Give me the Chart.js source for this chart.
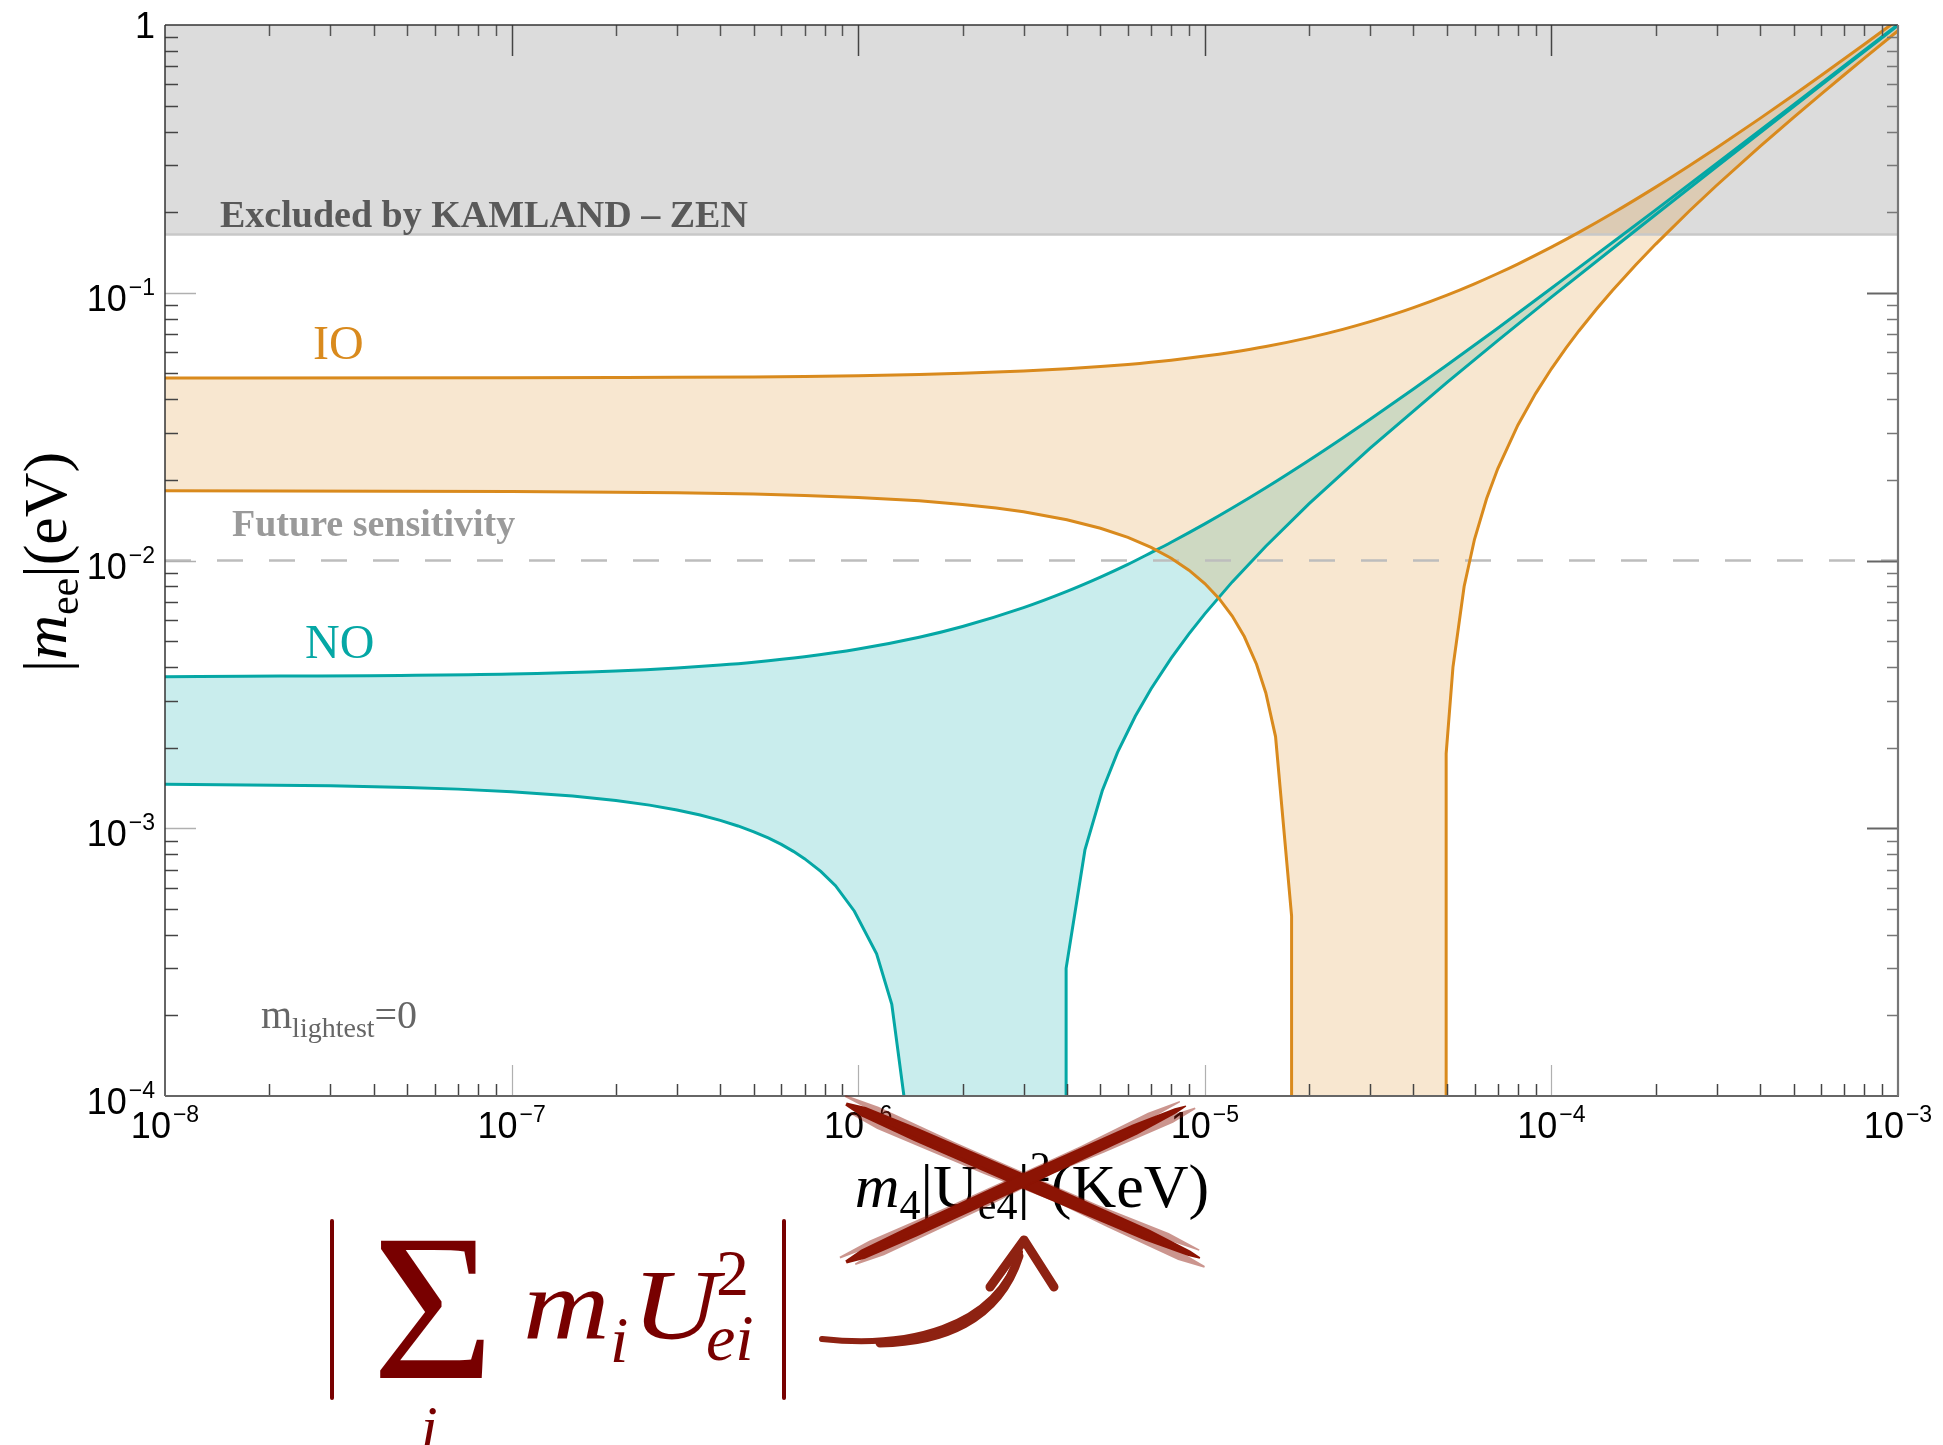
<!DOCTYPE html>
<html>
<head>
<meta charset="utf-8">
<title>|m_ee| versus m4|Ue4|^2</title>
<script src="https://cdn.jsdelivr.net/npm/chart.js@4.4.1/dist/chart.umd.min.js"></script>
<style>
  html, body { margin: 0; padding: 0; background: #fff; }
  #meeChart { display: block; width: 1943px; height: 1445px; }
</style>
</head>
<body>
<canvas id="meeChart" width="1943" height="1445"></canvas>
<script>
// Inverted ordering band: upper edge and the two branches of the lower edge (x in keV, |m_ee| in eV)
const ioUpperX = [1e-8, 1e-7, 2e-7, 3e-7, 5e-7, 7e-7, 1e-6, 1.5e-6, 2e-6, 3e-6, 4e-6, 5e-6, 6e-6, 8e-6, 1e-5, 1.2e-5, 1.5e-5, 2e-5, 2.5e-5, 3e-5, 3.5e-5, 4e-5, 5e-5, 6e-5, 7e-5, 8e-5, 1e-4, 1.2e-4, 1.5e-4, 2e-4, 2.5e-4, 3e-4, 4e-4, 5e-4, 6e-4, 7e-4, 8e-4, 9e-4, 1e-3];
const ioUpperY = [0.0480, 0.0481, 0.0482, 0.0483, 0.0485, 0.0487, 0.049, 0.0495, 0.050, 0.051, 0.052, 0.053, 0.054, 0.056, 0.058, 0.060, 0.063, 0.068, 0.073, 0.078, 0.083, 0.088, 0.098, 0.108, 0.118, 0.128, 0.148, 0.168, 0.198, 0.248, 0.298, 0.348, 0.448, 0.548, 0.648, 0.748, 0.848, 0.948, 1.048];
const ioLowLeftX = [1e-8, 1e-7, 2e-7, 3e-7, 5e-7, 7e-7, 1e-6, 1.5e-6, 2e-6, 2.5e-6, 3e-6, 4e-6, 5e-6, 6e-6, 7e-6, 8e-6, 9e-6, 1e-5, 1.1e-5, 1.2e-5, 1.3e-5, 1.41e-5, 1.5e-5, 1.6e-5, 1.78e-5, 1.78e-5];
const ioLowLeftY = [0.0182, 0.0181, 0.0180, 0.0179, 0.0177, 0.0175, 0.0172, 0.0167, 0.0162, 0.0157, 0.0152, 0.0142, 0.0132, 0.0122, 0.0112, 0.0102, 0.0092, 0.0082, 0.0072, 0.0062, 0.0052, 0.0041, 0.0032, 0.0022, 0.00047, 0.0001];
const ioLowRightX = [4.97e-5, 4.97e-5, 5.2e-5, 5.6e-5, 6e-5, 6.5e-5, 7e-5, 8e-5, 9e-5, 1e-4, 1.1e-4, 1.2e-4, 1.35e-4, 1.5e-4, 1.75e-4, 2e-4, 2.5e-4, 3e-4, 4e-4, 5e-4, 6e-4, 7e-4, 8e-4, 1e-3];
const ioLowRightY = [0.0001, 0.0019, 0.0040, 0.0080, 0.012, 0.017, 0.022, 0.032, 0.042, 0.052, 0.062, 0.072, 0.087, 0.102, 0.127, 0.152, 0.202, 0.252, 0.352, 0.452, 0.552, 0.652, 0.752, 0.952];

// Normal ordering band
const noUpperX = [1e-8, 1e-7, 2e-7, 3e-7, 4e-7, 5e-7, 7e-7, 1e-6, 1.5e-6, 2e-6, 3e-6, 4e-6, 5e-6, 6e-6, 7e-6, 8e-6, 1e-5, 1.2e-5, 1.5e-5, 2e-5, 2.5e-5, 3e-5, 4e-5, 5e-5, 7e-5, 1e-4, 1.5e-4, 2e-4, 3e-4, 5e-4, 7e-4, 1e-3];
const noUpperY = [0.00368, 0.00377, 0.00387, 0.00397, 0.00407, 0.00417, 0.00437, 0.00467, 0.00517, 0.00567, 0.00667, 0.00767, 0.00867, 0.00967, 0.0107, 0.0117, 0.0137, 0.0157, 0.0187, 0.0237, 0.0287, 0.0337, 0.0437, 0.0537, 0.0737, 0.104, 0.154, 0.204, 0.304, 0.504, 0.704, 1.004];
const noLowLeftX = [1e-8, 3e-8, 5e-8, 7e-8, 1e-7, 1.5e-7, 2e-7, 2.5e-7, 3e-7, 3.5e-7, 4e-7, 4.5e-7, 5e-7, 5.5e-7, 6e-7, 6.5e-7, 7e-7, 7.8e-7, 8.6e-7, 9.75e-7, 1.13e-6, 1.25e-6, 1.355e-6];
const noLowLeftY = [0.00146, 0.00144, 0.00142, 0.00140, 0.00137, 0.00132, 0.00127, 0.00122, 0.00117, 0.00112, 0.00107, 0.00102, 0.00097, 0.00092, 0.00087, 0.00082, 0.00077, 0.00069, 0.00061, 0.00049, 0.00034, 0.00022, 0.0001];
const noLowRightX = [3.98e-6, 3.98e-6, 4.51e-6, 5.06e-6, 5.6e-6, 6.3e-6, 7e-6, 8e-6, 9e-6, 1e-5, 1.2e-5, 1.5e-5, 2e-5, 3e-5, 5e-5, 7e-5, 1e-4, 1.5e-4, 2e-4, 3e-4, 5e-4, 7e-4, 1e-3];
const noLowRightY = [0.0001, 0.0003, 0.00083, 0.00138, 0.00192, 0.00262, 0.00332, 0.00432, 0.00532, 0.00632, 0.00832, 0.0113, 0.0163, 0.0263, 0.0463, 0.0663, 0.0963, 0.146, 0.196, 0.296, 0.496, 0.696, 0.996];

// Experimental levels
const kamlandLimit = 0.165;
const futureLimit = 0.01;

// Axis range and tick labels
const xRange = [1e-8, 1e-3];
const yRange = [1e-4, 1];
const xTicks = [1e-8, 1e-7, 1e-6, 1e-5, 1e-4, 1e-3];
const xTickExp = ['\u22128', '\u22127', '\u22126', '\u22125', '\u22124', '\u22123'];
const yTicks = [1e-4, 1e-3, 1e-2, 1e-1, 1];
const yTickBase = ['10', '10', '10', '10', '1'];
const yTickExp = ['\u22124', '\u22123', '\u22122', '\u22121', ''];
const minorSteps = [2, 3, 4, 5, 6, 7, 8, 9];

const ORANGE = '#d98a1d';
const TEAL = '#05a7a5';
const SERIF = '"Liberation Serif", "Times New Roman", serif';
const SANS = '"Liberation Sans", Arial, sans-serif';

const pts = (xs, ys) => xs.map((x, i) => ({ x, y: ys[i] }));

// closed outline of a band: upper edge left->right, then the lower branches back
const bandOutline = (ux, uy, rx, ry, lx, ly) =>
  pts(ux, uy).concat(pts(rx, ry).reverse(), pts(lx, ly).reverse());

const curve = (label, data, color, smooth) => ({
  label, data, borderColor: color, borderWidth: 3, pointRadius: 0,
  fill: false, tension: 0, cubicInterpolationMode: smooth ? 'monotone' : 'default', order: 1
});

const datasets = [
  curve('IO upper', pts(ioUpperX, ioUpperY), ORANGE, true),
  curve('IO lower', pts(ioLowLeftX, ioLowLeftY), ORANGE, false),
  curve('IO lower right', pts(ioLowRightX, ioLowRightY), ORANGE, false),
  curve('NO upper', pts(noUpperX, noUpperY), TEAL, true),
  curve('NO lower', pts(noLowLeftX, noLowLeftY), TEAL, false),
  curve('NO lower right', pts(noLowRightX, noLowRightY), TEAL, false),
  {
    label: 'Future sensitivity',
    data: [{ x: xRange[0], y: futureLimit }, { x: xRange[1], y: futureLimit }],
    borderColor: '#bdbdbd', borderWidth: 2.5, borderDash: [26, 26],
    pointRadius: 0, fill: false, order: 5
  },
  {
    label: 'IO band',
    data: bandOutline(ioUpperX, ioUpperY, ioLowRightX, ioLowRightY, ioLowLeftX, ioLowLeftY),
    borderWidth: 0, pointRadius: 0, fill: 'shape',
    backgroundColor: 'rgba(222, 145, 40, 0.22)', order: 8
  },
  {
    label: 'NO band',
    data: bandOutline(noUpperX, noUpperY, noLowRightX, noLowRightY, noLowLeftX, noLowLeftY),
    borderWidth: 0, pointRadius: 0, fill: 'shape',
    backgroundColor: 'rgba(0, 170, 170, 0.21)', order: 9
  },
  {
    label: 'KamLAND-Zen',
    data: [{ x: xRange[0], y: kamlandLimit }, { x: xRange[1], y: kamlandLimit }],
    borderColor: '#c8c8c8', borderWidth: 2.5, pointRadius: 0,
    fill: 'end', backgroundColor: '#dcdcdc', order: 10
  }
];

function line(ctx, x1, y1, x2, y2, color, w) {
  ctx.strokeStyle = color;
  ctx.lineWidth = w;
  ctx.beginPath();
  ctx.moveTo(x1, y1);
  ctx.lineTo(x2, y2);
  ctx.stroke();
}

// draws a run of [text, font, dy] pieces starting at x, returns the end x
function run(ctx, pieces, x, y, measureOnly) {
  let cx = x;
  pieces.forEach(([s, font, dy]) => {
    ctx.font = font;
    if (!measureOnly) ctx.fillText(s, cx, y + (dy || 0));
    cx += ctx.measureText(s).width;
  });
  return cx;
}

function power(ctx, base, exp, px, baseY, align) {
  const pieces = [[base, '36px ' + SANS, 0]];
  if (exp) pieces.push(['\u2009', '10px ' + SANS, 0], [exp, '23px ' + SANS, -16]);
  const w = run(ctx, pieces, 0, 0, true);
  const left = align === 'center' ? px - w / 2 : px - w;
  run(ctx, pieces, left, baseY);
}

// tapered polygon along p0->p1 with a width profile
function taper(ctx, p0, p1, w, prof, off) {
  const dx = p1[0] - p0[0], dy = p1[1] - p0[1];
  const len = Math.hypot(dx, dy);
  const nx = -dy / len, ny = dx / len;
  const at = (t, s) => [p0[0] + dx * t + nx * (s + off), p0[1] + dy * t + ny * (s + off)];
  ctx.beginPath();
  prof.forEach(([t, s], i) => {
    const p = at(t, w * s / 2);
    if (i) ctx.lineTo(p[0], p[1]); else ctx.moveTo(p[0], p[1]);
  });
  for (let i = prof.length - 1; i >= 0; i--) {
    const p = at(prof[i][0], -w * prof[i][1] / 2);
    ctx.lineTo(p[0], p[1]);
  }
  ctx.closePath();
  ctx.fill();
}

// rough brush stroke: a solid body with a lighter, slightly offset second pass
function brush(ctx, p0, p1, w, color) {
  ctx.fillStyle = color;
  taper(ctx, p0, p1, w, [[0, 0.25], [0.05, 0.75], [0.2, 0.95], [0.55, 1], [0.85, 0.85], [0.97, 0.4], [1, 0.1]], 0);
  ctx.globalAlpha = 0.45;
  taper(ctx, p0, p1, w * 0.6, [[0.02, 0.2], [0.1, 1], [0.4, 0.7], [0.6, 0], [0.75, 0.6], [0.95, 1], [1.02, 0.2]], w * 0.45);
  taper(ctx, p0, p1, w * 0.5, [[-0.01, 0.3], [0.08, 1], [0.3, 0.4], [0.7, 0.3], [0.9, 1], [0.99, 0.2]], -w * 0.5);
  ctx.globalAlpha = 1;
}

const frameAndTicks = {
  id: 'frameAndTicks',
  afterDatasetsDraw(chart) {
    const { ctx, chartArea: a, scales: { x, y } } = chart;
    ctx.save();
    ctx.lineCap = 'butt';
    xTicks.slice(0, -1).forEach(d => {
      minorSteps.forEach(m => {
        const px = Math.round(x.getPixelForValue(m * d)) + 0.5;
        line(ctx, px, a.bottom, px, a.bottom - 12, '#444', 1.5);
        line(ctx, px, a.top, px, a.top + 11, '#555', 1.5);
      });
    });
    xTicks.slice(1, -1).forEach(v => {
      const px = Math.round(x.getPixelForValue(v)) + 0.5;
      line(ctx, px, a.bottom, px, a.bottom - 31, '#b0b0b0', 1.2);
      line(ctx, px, a.top, px, a.top + 31, '#444', 1.5);
    });
    yTicks.slice(0, -1).forEach(d => {
      minorSteps.forEach(m => {
        const py = Math.round(y.getPixelForValue(m * d)) + 0.5;
        line(ctx, a.left, py, a.left + 13, py, '#444', 1.5);
        line(ctx, a.right, py, a.right - 11, py, '#777', 1.5);
      });
    });
    yTicks.slice(1, -1).forEach(v => {
      const py = Math.round(y.getPixelForValue(v)) + 0.5;
      line(ctx, a.left, py, a.left + 31, py, '#b0b0b0', 1.5);
      line(ctx, a.right, py, a.right - 31, py, '#666', 2);
    });
    line(ctx, a.left, a.top, a.right, a.top, '#333', 1.5);
    line(ctx, a.left, a.top, a.left, a.bottom, '#333', 1.5);
    line(ctx, a.left, a.bottom, a.right + 1, a.bottom, '#666', 2.2);
    line(ctx, a.right, a.top, a.right, a.bottom, '#777', 2.2);
    ctx.restore();
  },
  afterDraw(chart) {
    const { ctx, chartArea: a, scales: { x, y } } = chart;
    ctx.save();
    ctx.textBaseline = 'alphabetic';
    ctx.textAlign = 'left';

    // tick labels
    ctx.fillStyle = '#000';
    xTicks.forEach((v, i) => power(ctx, '10', xTickExp[i], x.getPixelForValue(v), a.bottom + 42, 'center'));
    yTicks.forEach((v, i) => {
      const py = y.getPixelForValue(v);
      power(ctx, yTickBase[i], yTickExp[i], a.left - 10, py + (yTickExp[i] ? 18 : 13), 'right');
    });

    // annotations inside the frame
    ctx.fillStyle = '#595959';
    ctx.font = 'bold 38px ' + SERIF;
    ctx.fillText('Excluded by KAMLAND \u2013 ZEN', 220, 227);
    ctx.fillStyle = '#9a9a9a';
    ctx.fillText('Future sensitivity', 232, 536);
    ctx.fillStyle = ORANGE;
    ctx.font = '48px ' + SERIF;
    ctx.fillText('IO', 313, 359);
    ctx.fillStyle = TEAL;
    ctx.fillText('NO', 305, 658);
    ctx.fillStyle = '#666';
    run(ctx, [['m', '40px ' + SERIF, 0], ['lightest', '28px ' + SERIF, 9], ['=0', '40px ' + SERIF, 0]], 261, 1028);

    // y axis title
    ctx.fillStyle = '#000';
    const yTitle = [['|', '62px ' + SERIF, 0], ['m', 'italic 62px ' + SERIF, 0], ['ee', '42px ' + SERIF, 12],
                    ['|', '62px ' + SERIF, 0], ['(eV)', '62px ' + SERIF, 0]];
    ctx.save();
    ctx.translate(66, 562);
    ctx.rotate(-Math.PI / 2);
    run(ctx, yTitle, -run(ctx, yTitle, 0, 0, true) / 2, 0);
    ctx.restore();

    // x axis title
    const xTitle = [['m', 'italic 62px ' + SERIF, 0], ['4', '42px ' + SERIF, 12], ['|U', '62px ' + SERIF, 0],
                    ['e4', '42px ' + SERIF, 12], ['|', '62px ' + SERIF, 0], ['2', '42px ' + SERIF, -26],
                    ['(KeV)', '62px ' + SERIF, 0]];
    run(ctx, xTitle, 1032 - run(ctx, xTitle, 0, 0, true) / 2, 1207);

    // crossed out
    brush(ctx, [846, 1104], [1200, 1258], 14, '#8c1404');
    brush(ctx, [846, 1262], [1186, 1106], 13, '#8c1404');

    // curved arrow
    ctx.strokeStyle = '#8e2212';
    ctx.lineCap = 'round';
    ctx.lineJoin = 'round';
    ctx.lineWidth = 6;
    ctx.beginPath();
    ctx.moveTo(822, 1339);
    ctx.bezierCurveTo(905, 1348, 995, 1330, 1020, 1252);
    ctx.stroke();
    ctx.lineWidth = 9;
    ctx.beginPath();
    ctx.moveTo(880, 1343);
    ctx.bezierCurveTo(940, 1342, 998, 1322, 1019, 1256);
    ctx.stroke();
    ctx.beginPath();
    ctx.moveTo(990, 1287);
    ctx.lineTo(1024, 1240);
    ctx.lineTo(1054, 1287);
    ctx.stroke();

    // |sum_i m_i U_ei^2|
    const red = '#780000';
    line(ctx, 332, 1221, 332, 1398, red, 4);
    line(ctx, 784, 1221, 784, 1398, red, 4);
    ctx.fillStyle = red;
    ctx.font = '210px ' + SERIF;
    ctx.fillText('\u03a3', 372, 1378);
    ctx.font = 'italic 60px ' + SERIF;
    ctx.fillText('i', 421, 1447);
    ctx.save();
    ctx.scale(1.2, 1);
    ctx.font = 'italic 100px ' + SERIF;
    ctx.fillText('m', 523 / 1.2, 1338);
    ctx.fillText('U', 632 / 1.2, 1338);
    ctx.restore();
    ctx.font = 'italic 66px ' + SERIF;
    ctx.fillText('i', 610, 1362);
    ctx.fillText('ei', 706, 1360);
    ctx.font = '66px ' + SERIF;
    ctx.fillText('2', 716, 1295);
    ctx.restore();
  }
};

new Chart(document.getElementById('meeChart'), {
  type: 'line',
  data: { datasets },
  plugins: [frameAndTicks],
  options: {
    responsive: false,
    devicePixelRatio: 1,
    animation: false,
    layout: { padding: { left: 165, right: 45, top: 25, bottom: 349 } },
    scales: {
      x: { type: 'logarithmic', min: xRange[0], max: xRange[1], display: false },
      y: { type: 'logarithmic', min: yRange[0], max: yRange[1], display: false }
    },
    plugins: {
      legend: { display: false },
      tooltip: { enabled: false },
      filler: { drawTime: 'beforeDatasetsDraw', propagate: false }
    }
  }
});
</script>
</body>
</html>
